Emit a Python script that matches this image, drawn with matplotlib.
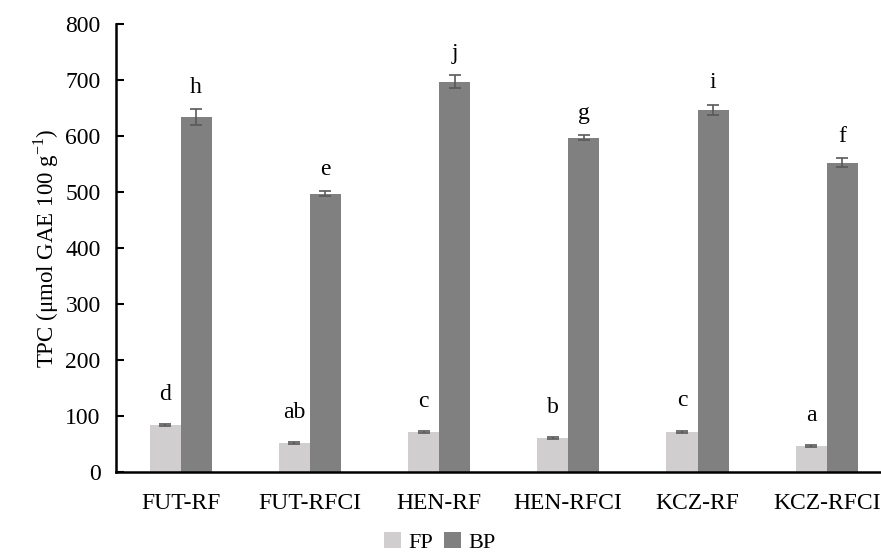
import numpy as np
import matplotlib.pyplot as plt

plt.rcParams['font.family'] = ['Liberation Serif', 'DejaVu Serif']

categories = ['FUT-RF', 'FUT-RFCI', 'HEN-RF', 'HEN-RFCI', 'KCZ-RF', 'KCZ-RFCI']
fp_values = [84, 52, 71, 61, 72, 46]
fp_errors = [1.5, 1.5, 1.5, 1.5, 1.5, 1.5]
bp_values = [634, 497, 697, 597, 647, 552]
bp_errors = [14, 5, 12, 5, 9, 8]
fp_letters = ['d', 'ab', 'c', 'b', 'c', 'a']
bp_letters = ['h', 'e', 'j', 'g', 'i', 'f']

fig = plt.figure(figsize=(8.81, 5.57), dpi=100)
ax = fig.add_axes([0.1317, 0.1526, 0.8683, 0.8044])

x = np.arange(len(categories))
w = 0.24
err_kw = dict(ecolor='#595959', elinewidth=1.2, capsize=4, capthick=1.2)
ax.bar(x - w/2, fp_values, w, yerr=fp_errors, color='#d0cece', label='FP', error_kw=err_kw)
ax.bar(x + w/2, bp_values, w, yerr=bp_errors, color='#808080', label='BP', error_kw=err_kw)

for i in range(len(categories)):
    ax.annotate(fp_letters[i], (x[i] - w/2, fp_values[i] + fp_errors[i]),
                xytext=(0, 14), textcoords='offset points', ha='center', va='bottom', fontsize=17)
    ax.annotate(bp_letters[i], (x[i] + w/2, bp_values[i] + bp_errors[i]),
                xytext=(0, 8), textcoords='offset points', ha='center', va='bottom', fontsize=17)

ax.set_ylim(0, 800)
ax.set_yticks(range(0, 801, 100))
ax.set_xlim(-0.5, 5.42)
ax.set_xticks(x)
ax.set_xticklabels(categories)
ax.tick_params(axis='y', direction='in', length=6, width=1.5, pad=11, labelsize=17)
ax.tick_params(axis='x', length=0, pad=15, labelsize=17)
for s in ['top', 'right']:
    ax.spines[s].set_visible(False)
for s in ['left', 'bottom']:
    ax.spines[s].set_linewidth(1.8)

ax.set_ylabel('TPC (μmol GAE 100 g$^{\\mathregular{−1}}$)', fontsize=16.5, labelpad=3)

fig.legend(loc='center', bbox_to_anchor=(0.4994, 0.026), ncol=2, frameon=False,
           fontsize=16, handlelength=0.75, handleheight=0.75, handletextpad=0.35, columnspacing=0.5,
           borderpad=0.1)

fig.savefig('out.png', dpi=100)
